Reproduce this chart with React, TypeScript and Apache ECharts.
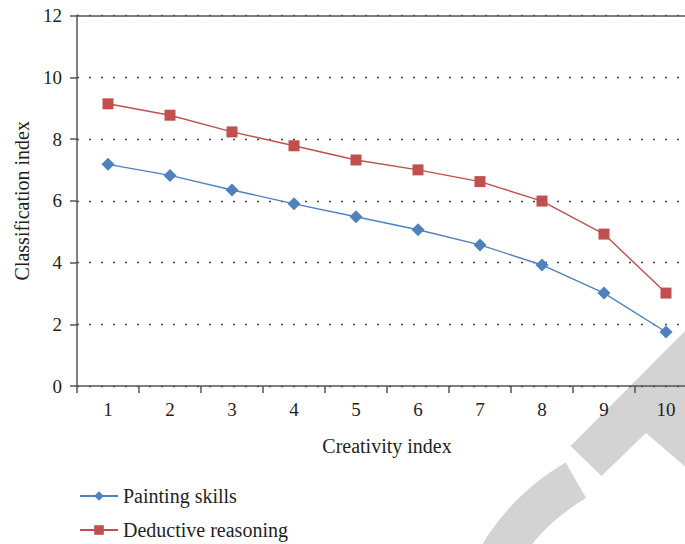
import React, { useEffect, useRef } from "react";
import * as echarts from "echarts";

// Creativity index categories along the x axis
const creativity = ["1", "2", "3", "4", "5", "6", "7", "8", "9", "10"];
// Classification index per creativity level
const paintingSkills = [7.18, 6.82, 6.35, 5.9, 5.48, 5.06, 4.57, 3.92, 3.01, 1.75];
const deductiveReasoning = [9.14, 8.77, 8.23, 7.78, 7.32, 7.0, 6.62, 5.99, 4.92, 3.01];

const FONT = "'Liberation Serif', 'DejaVu Serif', serif";
const TEXT = "#231f20";
const AXIS = "#555555";
const BLUE = "#4f81bd";
const RED = "#c0504d";

const legendBase = {
  orient: "vertical",
  left: 74,
  itemWidth: 38,
  itemHeight: 12,
  itemGap: 10,
  textStyle: { fontFamily: FONT, fontSize: 20, color: TEXT },
};

export default function App() {
  const ref = useRef<HTMLDivElement>(null);

  useEffect(() => {
    if (!ref.current) return;
    const chart = echarts.init(ref.current, undefined, { renderer: "svg" });
    chart.setOption({
      animation: false,
      backgroundColor: "#ffffff",
      textStyle: { fontFamily: FONT },
      // the plot area runs a little past the visible frame on the right
      grid: { left: 77, right: 3, top: 15.5, bottom: 158 },
      graphic: [
        {
          type: "polygon",
          z: -10,
          silent: true,
          shape: {
            points: [
              [570.5, 446],
              [710, 306],
              [710, 488],
              [646, 433],
              [601.5, 476],
            ],
          },
          style: { fill: "#d3d3d3" },
        },
        {
          type: "sector",
          z: -10,
          silent: true,
          shape: {
            cx: 680.5,
            cy: 663,
            r0: 190,
            r: 231,
            startAngle: (140 * Math.PI) / 180,
            endAngle: (240.2 * Math.PI) / 180,
            clockwise: true,
          },
          style: { fill: "#d3d3d3" },
        },
      ],
      legend: [
        { ...legendBase, top: 481, data: ["Painting skills"] },
        { ...legendBase, top: 515, data: ["Deductive reasoning"] },
      ],
      xAxis: [
        {
          type: "category",
          data: creativity,
          boundaryGap: true,
          name: "Creativity index",
          nameLocation: "middle",
          nameGap: 50,
          nameTextStyle: { fontFamily: FONT, fontSize: 20, color: TEXT },
          axisLine: { lineStyle: { color: AXIS, width: 1.5 } },
          axisTick: { show: true, length: 7, lineStyle: { color: AXIS, width: 1.5 } },
          axisLabel: { margin: 14, fontFamily: FONT, fontSize: 19, color: TEXT },
          splitLine: { show: false },
        },
        {
          type: "category",
          position: "top",
          data: creativity,
          axisLine: { lineStyle: { color: AXIS, width: 1.5 } },
          axisTick: { show: false },
          axisLabel: { show: false },
          splitLine: { show: false },
        },
      ],
      yAxis: {
        type: "value",
        min: 0,
        max: 12,
        interval: 2,
        name: "Classification index",
        nameLocation: "middle",
        nameGap: 42,
        nameTextStyle: { fontFamily: FONT, fontSize: 20, color: TEXT },
        axisLine: { show: true, lineStyle: { color: AXIS, width: 1.5 } },
        axisTick: { show: true, length: 7, lineStyle: { color: AXIS, width: 1.5 } },
        axisLabel: { margin: 15, fontFamily: FONT, fontSize: 19, color: TEXT },
        splitLine: {
          show: true,
          lineStyle: { color: "#444444", width: 1.3, type: [2, 10] },
        },
      },
      series: [
        {
          name: "Painting skills",
          type: "line",
          data: paintingSkills,
          symbol: "diamond",
          symbolSize: 13,
          color: BLUE,
          lineStyle: { width: 1.4, color: BLUE },
          itemStyle: { color: BLUE },
        },
        {
          name: "Deductive reasoning",
          type: "line",
          data: deductiveReasoning,
          symbol: "rect",
          symbolSize: 11,
          color: RED,
          lineStyle: { width: 1.4, color: RED },
          itemStyle: { color: RED },
        },
      ],
    });
    return () => chart.dispose();
  }, []);

  return (
    <div
      style={{
        width: 685,
        height: 544,
        position: "absolute",
        left: 0,
        top: 0,
        overflow: "hidden",
      }}
    >
      <div ref={ref} style={{ width: 700, height: 544 }} />
    </div>
  );
}
